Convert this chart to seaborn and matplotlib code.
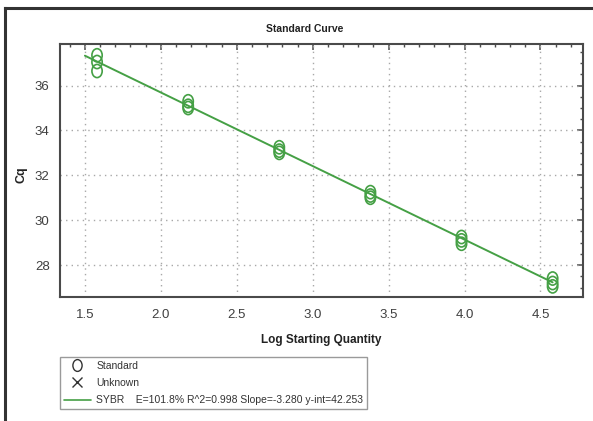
import numpy as np
import pandas as pd
import matplotlib
matplotlib.use("Agg")
import matplotlib.pyplot as plt
from matplotlib.path import Path
from matplotlib.transforms import Affine2D
from matplotlib.lines import Line2D
from matplotlib.ticker import MultipleLocator, FixedLocator
import seaborn as sns

# Standard dilution series (log10 of starting quantity) and replicate Cq values
log_qty = [1.58, 2.18, 2.78, 3.38, 3.98, 4.58]
cq_rep1 = [37.35, 35.30, 33.25, 31.25, 29.25, 27.40]
cq_rep2 = [37.05, 35.10, 33.10, 31.10, 29.10, 27.20]
cq_rep3 = [36.65, 35.00, 33.00, 31.00, 28.95, 27.05]

# Regression results reported for the SYBR run
efficiency = 101.8
r_squared = 0.998
slope = -3.280
y_intercept = 42.253
fit_range = [1.5, 4.58]

x_ticks = [1.5, 2.0, 2.5, 3.0, 3.5, 4.0, 4.5]
y_ticks = [28, 30, 32, 34, 36]

GREEN = "#45a045"
AXIS = "#4a4a4a"

sns.set_style("white")
plt.rcParams["font.family"] = ["Liberation Sans", "DejaVu Sans"]

df = pd.DataFrame({
    "log_qty": log_qty * 3,
    "cq": cq_rep1 + cq_rep2 + cq_rep3,
})
fit_x = np.array(fit_range)
fit_df = pd.DataFrame({"log_qty": fit_x, "cq": slope * fit_x + y_intercept})

# slightly tall open-circle marker
oval = Path.unit_circle().transformed(Affine2D().scale(0.78, 1.0))

W, H = 593, 421
fig = plt.figure(figsize=(W / 100, H / 100), dpi=100)
ax = fig.add_axes([60 / W, (H - 296.7) / H, (583 - 60) / W, (296.7 - 44.3) / H])

sns.lineplot(data=fit_df, x="log_qty", y="cq", color=GREEN, linewidth=1.4, ax=ax, zorder=3)
sns.scatterplot(data=df, x="log_qty", y="cq", marker=oval, s=90, ax=ax, zorder=4)
pts = ax.collections[-1]
pts.set_facecolor("none")
pts.set_edgecolor(GREEN)
pts.set_linewidth(1.2)

ax.set_xlim(1.336, 4.78)
ax.set_ylim(26.59, 37.84)
ax.xaxis.set_major_locator(FixedLocator(x_ticks))
ax.yaxis.set_major_locator(FixedLocator(y_ticks))
ax.xaxis.set_minor_locator(MultipleLocator(0.1))
ax.yaxis.set_minor_locator(MultipleLocator(0.5))
ax.set_xticklabels([f"{t:.1f}" for t in x_ticks])
ax.set_yticklabels([str(t) for t in y_ticks])
ax.set_xlabel("")
ax.set_ylabel("")

ax.grid(True, which="major", color="#a8a8a8", linestyle=(0, (1, 3)), linewidth=1.0)
for s in ax.spines.values():
    s.set_color(AXIS)
    s.set_linewidth(1.5)

ax.tick_params(which="major", direction="inout", length=7, width=1.1, color=AXIS,
               labelsize=9.5, labelcolor="#3f3f3f")
ax.tick_params(which="minor", direction="inout", length=4, width=1.0, color=AXIS)
ax.tick_params(axis="x", which="major", pad=5)
ax.tick_params(axis="y", which="major", pad=4)

# inward ticks along the top and right edges
top = ax.secondary_xaxis("top")
top.xaxis.set_major_locator(FixedLocator(x_ticks))
top.xaxis.set_minor_locator(MultipleLocator(0.1))
top.tick_params(which="major", direction="in", length=4, width=1.1, color=AXIS, labeltop=False)
top.tick_params(which="minor", direction="in", length=2.5, width=1.0, color=AXIS)
top.spines["top"].set_visible(False)
right = ax.secondary_yaxis("right")
right.yaxis.set_major_locator(FixedLocator(y_ticks))
right.yaxis.set_minor_locator(MultipleLocator(0.5))
right.tick_params(which="major", direction="in", length=4, width=1.1, color=AXIS, labelright=False)
right.tick_params(which="minor", direction="in", length=2.5, width=1.0, color=AXIS)
right.spines["right"].set_visible(False)

fig.text(305 / W, 1 - 29 / H, "Standard Curve", ha="center", va="center",
         fontsize=7.5, fontweight="bold", color="#222222")
fig.text(321 / W, 1 - 340 / H, "Log Starting Quantity", ha="center", va="center",
         fontsize=8.5, fontweight="bold", color="#222222")
fig.text(22 / W, 1 - 175 / H, "Cq", ha="center", va="center", rotation=90,
         fontsize=9, fontweight="bold", color="#222222")

handles = [
    Line2D([], [], linestyle="none", marker=oval, markersize=8.5, markerfacecolor="none",
           markeredgecolor="#333333", markeredgewidth=1.0),
    Line2D([], [], linestyle="none", marker="x", markersize=7, color="#333333",
           markeredgewidth=1.0),
    Line2D([], [], color=GREEN, linewidth=1.2),
]
labels = [
    "Standard",
    "Unknown",
    f"SYBR    E={efficiency:.1f}% R^2={r_squared:.3f} Slope={slope:.3f} y-int={y_intercept:.3f}",
]
fig.legend(handles, labels, loc="upper left", bbox_to_anchor=(60 / W, 1 - 357 / H),
           frameon=True, fancybox=False, edgecolor="#9a9a9a", framealpha=1,
           fontsize=7.5, labelcolor="#333333", handlelength=2.6, handletextpad=0.55,
           labelspacing=0.7, borderpad=0.35, borderaxespad=0)

# outer panel frame (left and top edges)
fig.add_artist(Line2D([5 / W, 5 / W], [0, 1 - 8 / H], transform=fig.transFigure,
                      color="#333333", linewidth=2.2, solid_capstyle="projecting"))
fig.add_artist(Line2D([5 / W, 1], [1 - 8 / H, 1 - 8 / H], transform=fig.transFigure,
                      color="#333333", linewidth=2.2, solid_capstyle="projecting"))

fig.savefig("out.png", dpi=100)
